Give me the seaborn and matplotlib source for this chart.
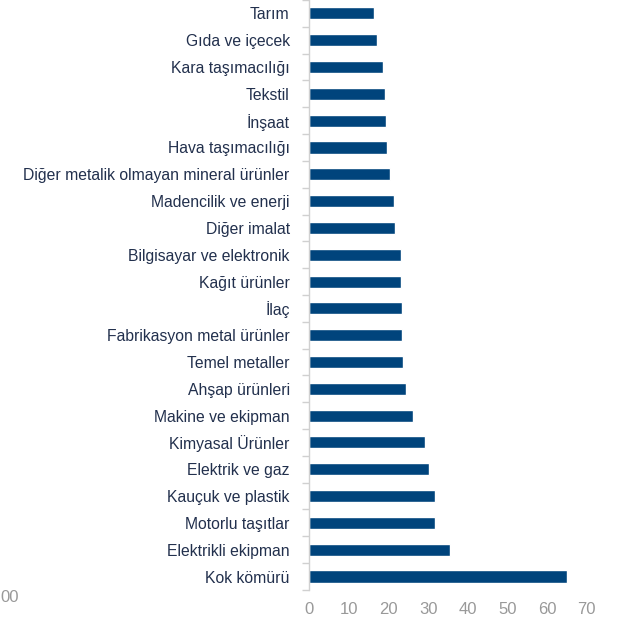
import numpy as np
import pandas as pd
import seaborn as sns
import matplotlib
matplotlib.use("Agg")
import matplotlib.pyplot as plt

sectors = ["Tarım", "Gıda ve içecek", "Kara taşımacılığı", "Tekstil", "İnşaat",
           "Hava taşımacılığı", "Diğer metalik olmayan mineral ürünler",
           "Madencilik ve enerji", "Diğer imalat", "Bilgisayar ve elektronik",
           "Kağıt ürünler", "İlaç", "Fabrikasyon metal ürünler", "Temel metaller",
           "Ahşap ürünleri", "Makine ve ekipman", "Kimyasal Ürünler",
           "Elektrik ve gaz", "Kauçuk ve plastik", "Motorlu taşıtlar",
           "Elektrikli ekipman", "Kok kömürü"]
values = [16.4, 17.0, 18.6, 19.2, 19.5, 19.7, 20.3, 21.5, 21.7, 23.1, 23.1,
          23.4, 23.4, 23.7, 24.3, 26.3, 29.3, 30.3, 31.8, 31.8, 35.4, 65.1]
xticks = [0, 10, 20, 30, 40, 50, 60, 70]

df = pd.DataFrame({"sektor": sectors, "deger": values})

sns.set_theme(style="white")
plt.rcParams['font.family'] = ['Liberation Sans', 'DejaVu Sans']

fig = plt.figure(figsize=(6.17, 6.19), dpi=100)
ax = fig.add_axes([0.501, 0.047, 0.45, 0.953])
sns.barplot(data=df, x="deger", y="sektor", color="#00447c", width=0.45,
            saturation=1, ax=ax, orient="h")

ax.set_xlim(0, 70)
ax.set_ylim(len(sectors) - 0.5, -0.5)
ax.set_xticks(xticks)
ax.set_xlabel("")
ax.set_ylabel("")
for s in ["top", "right", "bottom"]:
    ax.spines[s].set_visible(False)
ax.spines["left"].set_color("#d0d0d0")
ax.spines["left"].set_linewidth(1)

ax.tick_params(axis="y", which="major", length=0, pad=14, labelsize=11.3,
               labelcolor="#22304d")
ax.set_yticks(np.arange(len(sectors) + 1) - 0.5, minor=True)
ax.tick_params(axis="y", which="minor", left=True, length=5, width=1,
               color="#d0d0d0")
ax.tick_params(axis="x", length=0, pad=9, labelsize=12, labelcolor="#999999")

# kesilmiş etiket (sol alt köşe)
fig.text(0.0, 0.022, "00", fontsize=12, color="#999999", ha="left", va="bottom")

fig.savefig("out.png", dpi=100)
